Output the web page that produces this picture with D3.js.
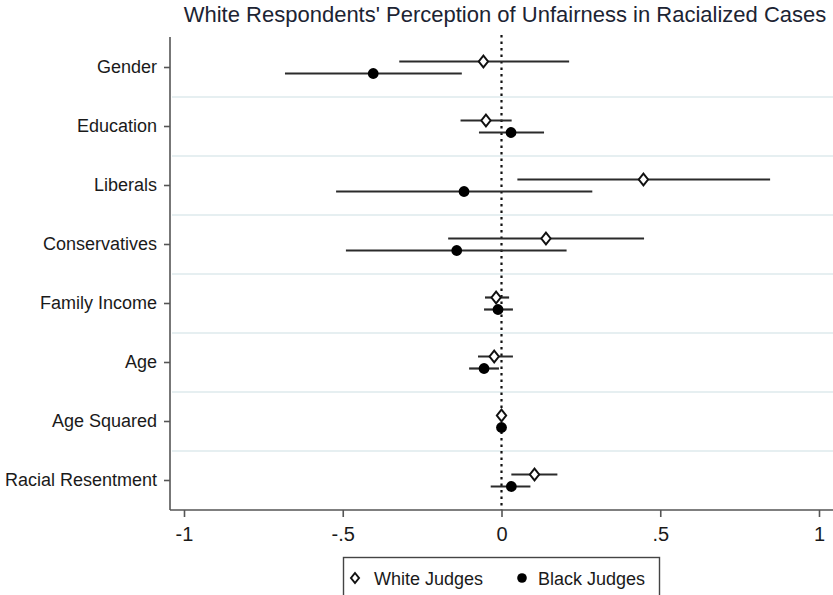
<!DOCTYPE html>
<html>
<head>
<meta charset="utf-8">
<script src="https://cdn.jsdelivr.net/npm/d3@7/dist/d3.min.js"></script>
<style>
  html, body { margin: 0; padding: 0; background: #fff; }
  svg { display: block; font-family: Arial, "Liberation Sans", sans-serif; }
</style>
</head>
<body>
<svg id="chart" width="833" height="595"></svg>
<script>
// Coefficient estimates with 95% confidence intervals
const categories = ["Gender", "Education", "Liberals", "Conservatives",
                    "Family Income", "Age", "Age Squared", "Racial Resentment"];

const whiteEst = [-0.057, -0.049, 0.447, 0.140, -0.017, -0.023, 0.000, 0.104];
const whiteLo  = [-0.322, -0.129, 0.050, -0.168, -0.052, -0.074, -0.003, 0.031];
const whiteHi  = [ 0.213,  0.032, 0.846,  0.449,  0.024,  0.036,  0.003, 0.176];

const blackEst = [-0.404, 0.030, -0.118, -0.141, -0.011, -0.055, 0.000, 0.031];
const blackLo  = [-0.682, -0.071, -0.521, -0.490, -0.055, -0.102, -0.003, -0.034];
const blackHi  = [-0.125,  0.134,  0.286,  0.205,  0.036, -0.008,  0.003, 0.091];

const xTicks = [-1, -0.5, 0, 0.5, 1];
const xTickLabels = ["-1", "-.5", "0", ".5", "1"];

const seriesNames = ["White Judges", "Black Judges"];
const title = "White Respondents' Perception of Unfairness in Racialized Cases";

const svg = d3.select("#chart");
const W = 833, H = 595;
const plot = { left: 170, right: 833, top: 38, bottom: 510 };

const x = d3.scaleLinear().domain([-1, 1]).range([184, 819]);
const y = d3.scaleBand().domain(categories).range([plot.top, plot.bottom]);
const off = 6;

// Title
svg.append("text")
  .attr("x", 505).attr("y", 22)
  .attr("text-anchor", "middle")
  .attr("font-size", 22)
  .attr("fill", "#1c2433")
  .text(title);

// Light separators between categories
svg.append("g").selectAll("line")
  .data(categories.slice(1))
  .join("line")
  .attr("x1", plot.left + 2).attr("x2", W)
  .attr("y1", d => y(d)).attr("y2", d => y(d))
  .attr("stroke", "#e6eff1").attr("stroke-width", 2);

// Reference line at zero
svg.append("line")
  .attr("x1", x(0)).attr("x2", x(0))
  .attr("y1", plot.top - 3).attr("y2", plot.bottom)
  .attr("stroke", "#111").attr("stroke-width", 2.2)
  .attr("stroke-dasharray", "2.5,4");

// Y axis
const yAxis = d3.axisLeft(y).tickSize(6).tickSizeOuter(0).tickPadding(7);
const gy = svg.append("g").attr("transform", `translate(${plot.left},0)`).call(yAxis);
gy.select(".domain").attr("stroke", "#555").attr("stroke-width", 1.6)
  .attr("d", `M0,${plot.top - 1}V${plot.bottom}`);
gy.selectAll(".tick line").attr("stroke", "#555").attr("stroke-width", 1.6);
gy.selectAll(".tick text").attr("font-size", 18).attr("fill", "#1a1a1a")
  .attr("font-family", "Arial, 'Liberation Sans', sans-serif");

// X axis
const xAxis = d3.axisBottom(x).tickValues(xTicks)
  .tickFormat((d, i) => xTickLabels[i]).tickSize(7).tickSizeOuter(0).tickPadding(10);
const gx = svg.append("g").attr("transform", `translate(0,${plot.bottom})`).call(xAxis);
gx.select(".domain").attr("stroke", "#555").attr("stroke-width", 1.6)
  .attr("d", `M${plot.left},0H${W}`);
gx.selectAll(".tick line").attr("stroke", "#555").attr("stroke-width", 1.6);
gx.selectAll(".tick text").attr("font-size", 20).attr("fill", "#1a1a1a")
  .attr("font-family", "Arial, 'Liberation Sans', sans-serif");

const rows = categories.map((c, i) => ({
  c,
  w: { est: whiteEst[i], lo: whiteLo[i], hi: whiteHi[i] },
  b: { est: blackEst[i], lo: blackLo[i], hi: blackHi[i] }
}));

const cy = c => y(c) + y.bandwidth() / 2;

// Confidence intervals
const ci = svg.append("g").attr("stroke", "#2b2b2b").attr("stroke-width", 2.2);
ci.selectAll("line.w").data(rows).join("line").attr("class", "w")
  .attr("x1", d => x(d.w.lo)).attr("x2", d => x(d.w.hi))
  .attr("y1", d => cy(d.c) - off).attr("y2", d => cy(d.c) - off);
ci.selectAll("line.b").data(rows).join("line").attr("class", "b")
  .attr("x1", d => x(d.b.lo)).attr("x2", d => x(d.b.hi))
  .attr("y1", d => cy(d.c) + off).attr("y2", d => cy(d.c) + off);

// Point estimates
const diamond = (cx, cyv, r) => `M${cx},${cyv - r}L${cx + r * 0.8},${cyv}L${cx},${cyv + r}L${cx - r * 0.8},${cyv}Z`;
svg.append("g").selectAll("path").data(rows).join("path")
  .attr("d", d => diamond(x(d.w.est), cy(d.c) - off, 5.8))
  .attr("fill", "#fff").attr("stroke", "#111").attr("stroke-width", 2);
svg.append("g").selectAll("circle").data(rows).join("circle")
  .attr("cx", d => x(d.b.est)).attr("cy", d => cy(d.c) + off)
  .attr("r", 5.4).attr("fill", "#000");

// Legend
const lg = svg.append("g");
lg.append("rect").attr("x", 343.5).attr("y", 557.5).attr("width", 316).attr("height", 50)
  .attr("fill", "#fff").attr("stroke", "#444").attr("stroke-width", 1.4);
lg.append("path").attr("d", diamond(355, 578, 5))
  .attr("fill", "#fff").attr("stroke", "#111").attr("stroke-width", 2);
lg.append("text").attr("x", 374).attr("y", 584.5).attr("font-size", 18).attr("fill", "#1a1a1a")
  .text(seriesNames[0]);
lg.append("circle").attr("cx", 522).attr("cy", 578).attr("r", 4.8).attr("fill", "#000");
lg.append("text").attr("x", 538).attr("y", 584.5).attr("font-size", 18).attr("fill", "#1a1a1a")
  .text(seriesNames[1]);
</script>
</body>
</html>
